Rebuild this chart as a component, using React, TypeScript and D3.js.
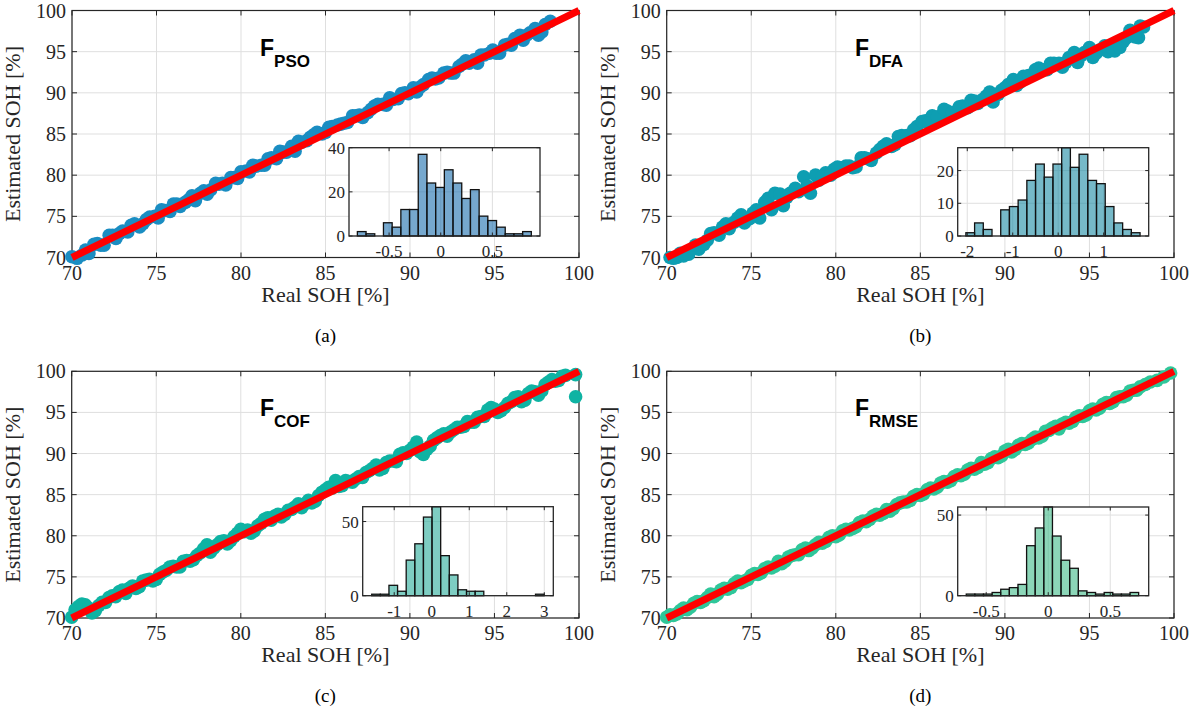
import React from 'react'
import * as d3 from 'd3'

// scatter data: real SOH vs estimated SOH (two interleaved sets per panel)
const realA = [70.0, 70.6, 71.0, 71.5, 71.9, 72.4, 72.8, 73.3, 73.7, 74.2, 74.6, 75.1, 75.5, 76.0, 76.4, 76.9, 77.3, 77.8, 78.2, 78.7, 79.1, 79.6, 80.0, 80.5, 80.9, 81.4, 81.8, 82.3, 82.7, 83.2, 83.6, 84.1, 84.5, 85.0, 85.4, 85.9, 86.3, 86.8, 87.2, 87.7, 88.1, 88.6, 89.0, 89.5, 89.9, 90.4, 90.8, 91.3, 91.7, 92.2, 92.6, 93.1, 93.5, 94.0, 94.4, 94.9, 95.3, 95.8, 96.2, 96.7, 97.1, 97.6, 98.0, 98.3]
const estA = [70.1, 70.3, 70.5, 71.7, 71.5, 72.7, 72.9, 73.1, 74.1, 74.1, 74.9, 74.8, 75.7, 76.5, 76.2, 77.0, 76.9, 78.1, 78.2, 78.9, 78.8, 79.7, 80.4, 80.4, 81.1, 81.2, 82.1, 82.9, 82.8, 82.9, 84.0, 84.6, 85.2, 85.2, 85.9, 86.2, 86.4, 87.2, 87.0, 88.0, 88.6, 88.5, 89.2, 89.9, 89.9, 90.1, 91.0, 91.8, 91.8, 92.5, 92.4, 93.5, 93.6, 93.6, 94.6, 95.2, 94.8, 95.9, 96.6, 96.4, 97.3, 97.0, 98.3, 98.7]
const realA2 = [70.3, 70.8, 71.3, 71.7, 72.2, 72.6, 73.0, 73.5, 74.0, 74.4, 74.9, 75.3, 75.8, 76.2, 76.7, 77.1, 77.6, 78.0, 78.5, 78.9, 79.4, 79.8, 80.3, 80.7, 81.2, 81.6, 82.1, 82.5, 83.0, 83.4, 83.9, 84.3, 84.8, 85.2, 85.7, 86.1, 86.6, 87.0, 87.5, 87.9, 88.4, 88.8, 89.3, 89.7, 90.2, 90.6, 91.1, 91.5, 92.0, 92.4, 92.9, 93.3, 93.8, 94.2, 94.7, 95.1, 95.6, 96.0, 96.5, 96.9, 97.4, 97.8]
const estA2 = [69.9, 70.9, 71.6, 71.5, 72.7, 72.3, 73.2, 73.9, 73.7, 74.6, 75.0, 75.8, 75.6, 76.5, 76.7, 77.5, 77.8, 77.7, 79.0, 79.0, 79.7, 79.6, 80.5, 81.2, 81.2, 82.0, 82.0, 82.8, 83.5, 84.1, 84.2, 84.9, 85.0, 85.8, 86.1, 86.3, 87.2, 87.3, 87.6, 88.4, 88.6, 89.4, 89.3, 90.0, 90.6, 90.7, 91.6, 91.7, 92.4, 92.4, 93.2, 93.9, 94.0, 94.6, 94.8, 94.8, 95.8, 95.8, 97.0, 97.0, 97.8, 97.4]

const realB = [70.2, 70.6, 71.0, 71.5, 71.9, 72.4, 72.8, 73.3, 73.7, 74.2, 74.6, 75.1, 75.5, 76.0, 76.4, 76.9, 77.3, 77.8, 78.1, 78.5, 79.0, 79.4, 79.9, 80.3, 80.8, 81.2, 81.7, 82.1, 82.6, 83.0, 83.5, 83.9, 84.4, 84.8, 85.3, 85.7, 86.2, 86.6, 87.1, 87.5, 88.0, 88.4, 88.9, 89.3, 89.8, 90.2, 90.7, 91.1, 91.6, 92.0, 92.5, 92.9, 93.4, 93.8, 94.3, 94.7, 95.2, 95.6, 96.1, 96.5, 97.0, 97.4, 97.9, 98.2]
const estB = [70.0, 70.0, 70.2, 71.0, 71.0, 72.1, 73.0, 73.7, 73.5, 74.8, 74.2, 75.4, 74.8, 77.2, 77.8, 76.3, 77.8, 78.0, 79.8, 77.8, 79.4, 80.3, 80.7, 80.9, 81.1, 81.0, 82.1, 81.8, 83.1, 83.8, 83.7, 84.8, 84.8, 85.9, 86.6, 87.2, 87.1, 87.8, 87.7, 88.4, 89.1, 88.7, 89.6, 88.9, 90.3, 91.0, 90.9, 92.0, 92.2, 93.0, 92.8, 93.6, 93.1, 94.3, 93.7, 94.9, 94.3, 95.2, 95.0, 95.1, 96.2, 97.6, 96.7, 98.0]
const realB2 = [70.4, 70.8, 71.3, 71.7, 72.2, 72.6, 73.1, 73.5, 74.0, 74.4, 74.9, 75.3, 75.8, 76.2, 76.7, 77.1, 77.6, 78.3, 78.8, 79.2, 79.7, 80.1, 80.6, 81.0, 81.5, 81.9, 82.4, 82.8, 83.3, 83.7, 84.2, 84.6, 85.1, 85.5, 86.0, 86.4, 86.9, 87.3, 87.8, 88.2, 88.7, 89.1, 89.6, 90.0, 90.5, 90.9, 91.4, 91.8, 92.3, 92.7, 93.2, 93.6, 94.1, 94.5, 95.0, 95.4, 95.9, 96.3, 96.8, 97.2, 97.7, 98.0]
const estB2 = [69.9, 70.5, 70.4, 71.5, 71.6, 72.9, 72.7, 74.1, 74.3, 75.2, 74.7, 75.8, 76.7, 75.8, 77.7, 77.3, 78.4, 78.7, 80.0, 79.8, 80.0, 81.0, 81.1, 80.9, 82.1, 82.0, 82.7, 83.5, 83.5, 84.7, 84.8, 85.5, 86.5, 86.3, 87.1, 88.0, 87.6, 88.3, 88.2, 89.0, 89.2, 90.1, 89.8, 90.6, 91.6, 91.3, 92.1, 92.8, 92.8, 93.6, 93.6, 93.7, 94.9, 94.5, 95.5, 94.8, 95.7, 95.5, 95.5, 96.7, 96.8, 98.1]

const realC = [70.0, 70.4, 70.8, 71.2, 71.6, 72.0, 72.4, 72.8, 73.2, 73.6, 74.0, 74.4, 74.8, 75.2, 75.6, 76.0, 76.4, 76.8, 77.2, 77.6, 78.0, 78.4, 78.8, 79.2, 79.6, 80.0, 80.4, 80.8, 81.2, 81.6, 82.0, 82.4, 82.8, 83.2, 83.6, 84.0, 84.4, 84.8, 85.2, 85.6, 86.0, 86.4, 86.8, 87.2, 87.6, 88.0, 88.4, 88.8, 89.2, 89.6, 90.0, 90.4, 90.8, 91.2, 91.6, 92.0, 92.4, 92.8, 93.2, 93.6, 94.0, 94.4, 94.8, 95.2, 95.6, 96.0, 96.4, 96.8, 97.2, 97.6, 98.0, 98.4, 98.8, 99.2, 99.8, 99.8]
const estC = [70.1, 71.4, 71.6, 70.6, 71.5, 71.9, 72.7, 73.2, 73.0, 73.9, 73.8, 74.6, 74.5, 75.3, 75.8, 76.3, 76.2, 77.0, 77.1, 77.9, 78.9, 78.5, 79.3, 79.0, 79.9, 80.8, 80.7, 80.6, 81.5, 82.2, 82.4, 82.3, 83.1, 83.5, 83.4, 84.3, 84.2, 85.3, 85.9, 86.7, 86.1, 86.6, 86.9, 87.1, 87.9, 88.6, 88.2, 89.1, 89.0, 90.1, 90.4, 91.4, 89.9, 90.9, 91.9, 92.4, 92.6, 93.2, 93.3, 93.8, 94.4, 94.5, 95.6, 95.0, 95.6, 96.3, 96.9, 96.5, 97.6, 97.1, 98.4, 99.0, 98.9, 99.5, 99.6, 96.9]
const realC2 = [70.2, 70.6, 71.0, 71.4, 71.8, 72.2, 72.6, 73.0, 73.4, 73.8, 74.2, 74.6, 75.0, 75.4, 75.8, 76.2, 76.6, 77.0, 77.4, 77.8, 78.2, 78.6, 79.0, 79.4, 79.8, 80.2, 80.6, 81.0, 81.4, 81.8, 82.2, 82.6, 83.0, 83.4, 83.8, 84.2, 84.6, 85.0, 85.4, 85.8, 86.2, 86.6, 87.0, 87.4, 87.8, 88.2, 88.6, 89.0, 89.4, 89.8, 90.2, 90.6, 91.0, 91.4, 91.8, 92.2, 92.6, 93.0, 93.4, 93.8, 94.2, 94.6, 95.0, 95.4, 95.8, 96.2, 96.6, 97.0, 97.4, 97.8, 98.2, 98.6, 99.0]
const estC2 = [71.0, 71.7, 71.2, 70.9, 71.9, 72.5, 72.6, 73.4, 73.6, 73.6, 74.5, 74.7, 74.7, 75.6, 76.2, 76.2, 76.9, 76.9, 77.6, 78.4, 78.0, 78.9, 79.4, 79.4, 80.3, 80.5, 80.3, 81.2, 82.0, 81.9, 82.6, 82.6, 83.2, 83.9, 83.9, 84.0, 84.9, 85.6, 85.8, 86.0, 86.7, 86.5, 87.2, 87.7, 88.2, 88.0, 88.9, 89.1, 89.9, 90.0, 90.8, 90.2, 90.5, 91.6, 92.2, 92.1, 92.9, 93.2, 93.9, 93.8, 94.5, 95.3, 95.4, 95.2, 96.1, 96.8, 96.3, 97.3, 97.5, 97.6, 98.7, 98.8, 99.4]

const realD = [70.0, 70.4, 70.8, 71.2, 71.6, 72.0, 72.4, 72.8, 73.2, 73.6, 74.0, 74.4, 74.8, 75.2, 75.6, 76.0, 76.4, 76.8, 77.2, 77.6, 78.0, 78.4, 78.8, 79.2, 79.6, 80.0, 80.4, 80.8, 81.2, 81.6, 82.0, 82.4, 82.8, 83.2, 83.6, 84.0, 84.4, 84.8, 85.2, 85.6, 86.0, 86.4, 86.8, 87.2, 87.6, 88.0, 88.4, 88.8, 89.2, 89.6, 90.0, 90.4, 90.8, 91.2, 91.6, 92.0, 92.4, 92.8, 93.2, 93.6, 94.0, 94.4, 94.8, 95.2, 95.6, 96.0, 96.4, 96.8, 97.2, 97.6, 98.0, 98.6, 99.0, 99.8]
const estD = [70.1, 70.3, 70.9, 71.0, 71.8, 71.9, 72.5, 72.6, 73.4, 73.5, 74.2, 74.3, 74.7, 75.4, 75.5, 76.2, 76.3, 76.6, 77.4, 77.7, 78.3, 78.2, 78.9, 79.1, 79.8, 79.9, 80.6, 80.7, 81.1, 81.8, 82.0, 82.6, 82.7, 83.0, 83.8, 84.1, 84.3, 85.0, 85.1, 85.8, 85.9, 86.6, 86.7, 87.4, 87.5, 88.2, 88.3, 88.7, 89.4, 89.5, 90.3, 90.2, 91.0, 91.1, 91.7, 91.9, 92.7, 93.1, 93.0, 93.8, 93.9, 94.6, 94.7, 95.4, 95.5, 96.2, 96.3, 96.9, 97.1, 97.7, 98.1, 98.7, 98.9, 99.8]
const realD2 = [70.2, 70.6, 71.0, 71.4, 71.8, 72.2, 72.6, 73.0, 73.4, 73.8, 74.2, 74.6, 75.0, 75.4, 75.8, 76.2, 76.6, 77.0, 77.4, 77.8, 78.2, 78.6, 79.0, 79.4, 79.8, 80.2, 80.6, 81.0, 81.4, 81.8, 82.2, 82.6, 83.0, 83.4, 83.8, 84.2, 84.6, 85.0, 85.4, 85.8, 86.2, 86.6, 87.0, 87.4, 87.8, 88.2, 88.6, 89.0, 89.4, 89.8, 90.2, 90.6, 91.0, 91.4, 91.8, 92.2, 92.6, 93.0, 93.4, 93.8, 94.2, 94.6, 95.0, 95.4, 95.8, 96.2, 96.6, 97.0, 97.4, 97.8, 98.3, 99.4]
const estD2 = [70.4, 70.5, 71.2, 71.3, 72.0, 72.1, 72.9, 72.9, 73.6, 73.7, 74.5, 74.5, 75.2, 75.3, 76.0, 76.1, 76.9, 76.9, 77.6, 77.7, 78.5, 78.5, 79.2, 79.3, 80.0, 80.1, 80.8, 80.9, 81.6, 81.7, 82.4, 82.5, 83.2, 83.3, 84.0, 84.1, 84.8, 84.9, 85.6, 85.7, 86.4, 86.5, 87.2, 87.3, 88.0, 88.1, 88.9, 88.9, 89.6, 89.7, 90.5, 90.5, 91.2, 91.3, 92.0, 92.1, 92.8, 93.3, 93.6, 93.7, 94.4, 94.5, 95.2, 95.3, 96.0, 96.1, 96.8, 96.9, 97.6, 97.7, 98.4, 99.3]

// error histograms (counts per bin)
const histA = [2, 1, 0, 6, 4, 12, 12, 37, 24, 22, 30, 24, 17, 21, 9, 7, 4, 1, 1, 2]
const histB = [1, 4, 2, 0, 8, 9, 11, 17, 22, 18, 22, 27, 21, 25, 17, 16, 9, 4, 2, 1]
const histC = [1, 1, 7, 3, 24, 35, 53, 60, 27, 14, 4, 3, 3, 0, 0, 0, 0, 0, 0, 1]
const histD = [1, 1, 1, 2, 4, 5, 7, 31, 42, 55, 37, 22, 17, 3, 2, 1, 2, 1, 1, 2]

const mainTicks = [70, 75, 80, 85, 90, 95, 100]

const SERIF = '"Liberation Serif","Times New Roman",serif'
const SANS = '"Liberation Sans",Arial,sans-serif'
const AXIS = '#262626'
const GRID = '#dfdfdf'

const panels = [
  {
    real: [...realA, ...realA2], est: [...estA, ...estA2], hist: histA, sub: 'PSO', letter: '(a)',
    box: [72, 579, 10.5, 257.5], inset: [349, 540, 147.7, 236],
    dot: '#1a8dc2', bar: '#1a6eae',
    binStart: -0.807, binWidth: 0.0842, hx: [-0.888, 0.961], hxTicks: [-0.5, 0, 0.5], hy: [0, 40], hyTicks: [0, 20, 40],
    titleX: 260,
  },
  {
    real: [...realB, ...realB2], est: [...estB, ...estB2], hist: histB, sub: 'DFA', letter: '(b)',
    box: [666.7, 1174, 10.5, 257.5], inset: [957.7, 1148.7, 147.7, 236],
    dot: '#0e9eb2', bar: '#1b8aa3',
    binStart: -2.03, binWidth: 0.1915, hx: [-2.21, 1.99], hxTicks: [-2, -1, 0, 1], hy: [0, 27], hyTicks: [0, 10, 20],
    titleX: 855,
  },
  {
    real: [...realC, ...realC2], est: [...estC, ...estC2], hist: histC, sub: 'COF', letter: '(c)',
    box: [71.7, 579, 371.3, 618], inset: [362.7, 553.3, 506.7, 595.7],
    dot: '#0fb3a3', bar: '#28ac99',
    binStart: -1.6, binWidth: 0.2298, hx: [-1.84, 3.24], hxTicks: [-1, 0, 1, 2, 3], hy: [0, 60], hyTicks: [0, 50],
    titleX: 260,
  },
  {
    real: [...realD, ...realD2], est: [...estD, ...estD2], hist: histD, sub: 'RMSE', letter: '(d)',
    box: [666.7, 1174, 371.3, 618], inset: [957.7, 1148.7, 507, 595.7],
    dot: '#2fc79a', bar: '#3fbb89',
    binStart: -0.661, binWidth: 0.0695, hx: [-0.73, 0.81], hxTicks: [-0.5, 0, 0.5], hy: [0, 55], hyTicks: [0, 50],
    titleX: 855,
  },
]

function fmt(v: number) {
  return v < 0 ? '-' + String(Math.abs(v)) : String(v)
}

function Inset({ p }: { p: any }) {
  const [l, r, t, b] = p.inset
  const x = d3.scaleLinear().domain(p.hx).range([l, r])
  const y = d3.scaleLinear().domain(p.hy).range([b, t])
  return (
    <g>
      <rect x={l} y={t} width={r - l} height={b - t} fill="#fff" />
      {p.hxTicks.map((v: number) => (
        <line key={'gx' + v} x1={x(v)} x2={x(v)} y1={t} y2={b} stroke={GRID} />
      ))}
      {p.hyTicks.map((v: number) => (
        <line key={'gy' + v} x1={l} x2={r} y1={y(v)} y2={y(v)} stroke={GRID} />
      ))}
      {p.hist.map((c: number, i: number) => {
        if (c === 0) return null
        const x0 = x(p.binStart + i * p.binWidth)
        const x1 = x(p.binStart + (i + 1) * p.binWidth)
        return (
          <rect key={i} x={x0} y={y(c)} width={x1 - x0} height={y(0) - y(c)}
            fill={p.bar} fillOpacity={0.6} stroke="#111" strokeWidth={1.3} />
        )
      })}
      <rect x={l} y={t} width={r - l} height={b - t} fill="none" stroke={AXIS} strokeWidth={1.3} />
      {p.hxTicks.map((v: number) => (
        <g key={'tx' + v}>
          <line x1={x(v)} x2={x(v)} y1={b} y2={b - 3.5} stroke={AXIS} />
          <line x1={x(v)} x2={x(v)} y1={t} y2={t + 3.5} stroke={AXIS} />
          <text x={x(v)} y={b + 21} textAnchor="middle" fontFamily={SERIF} fontSize={17} fill={AXIS}>{fmt(v)}</text>
        </g>
      ))}
      {p.hyTicks.map((v: number) => (
        <g key={'ty' + v}>
          <line x1={l} x2={l + 3.5} y1={y(v)} y2={y(v)} stroke={AXIS} />
          <line x1={r} x2={r - 3.5} y1={y(v)} y2={y(v)} stroke={AXIS} />
          <text x={l - 4} y={y(v) + 6} textAnchor="end" fontFamily={SERIF} fontSize={17} fill={AXIS}>{v}</text>
        </g>
      ))}
    </g>
  )
}

function Panel({ p }: { p: any }) {
  const [l, r, t, b] = p.box
  const x = d3.scaleLinear().domain([70, 100]).range([l, r])
  const y = d3.scaleLinear().domain([70, 100]).range([b, t])
  const cx = (l + r) / 2
  return (
    <g>
      {mainTicks.map(v => (
        <g key={'g' + v}>
          <line x1={x(v)} x2={x(v)} y1={t} y2={b} stroke={GRID} />
          <line x1={l} x2={r} y1={y(v)} y2={y(v)} stroke={GRID} />
        </g>
      ))}
      <rect x={l} y={t} width={r - l} height={b - t} fill="none" stroke={AXIS} strokeWidth={1.2} />
      {mainTicks.map(v => (
        <g key={'t' + v}>
          <line x1={x(v)} x2={x(v)} y1={b} y2={b - 5} stroke={AXIS} />
          <line x1={x(v)} x2={x(v)} y1={t} y2={t + 5} stroke={AXIS} />
          <line x1={l} x2={l + 5} y1={y(v)} y2={y(v)} stroke={AXIS} />
          <line x1={r} x2={r - 5} y1={y(v)} y2={y(v)} stroke={AXIS} />
          <text x={x(v)} y={b + 22} textAnchor="middle" fontFamily={SERIF} fontSize={20} fill={AXIS}>{v}</text>
          <text x={l - 6} y={y(v) + 7} textAnchor="end" fontFamily={SERIF} fontSize={20} fill={AXIS}>{v}</text>
        </g>
      ))}
      {p.real.map((v: number, i: number) => (
        <circle key={i} cx={x(v)} cy={y(p.est[i])} r={6.8} fill={p.dot} />
      ))}
      <line x1={x(70)} y1={y(70)} x2={x(100)} y2={y(100)} stroke="#ff0000" strokeWidth={7} />
      <Inset p={p} />
      <text x={p.titleX} y={t + 45} fontFamily={SANS} fontWeight="bold" fontSize={23} fill="#000">
        F<tspan fontSize={17} dy={11}>{p.sub}</tspan>
      </text>
      <text x={cx} y={b + 44} textAnchor="middle" fontFamily={SERIF} fontSize={22} fill={AXIS}>Real SOH [%]</text>
      <text transform={`translate(${l - 52},${(t + b) / 2}) rotate(-90)`} textAnchor="middle"
        fontFamily={SERIF} fontSize={22} fill={AXIS}>Estimated SOH [%]</text>
      <text x={cx} y={b + 84} textAnchor="middle" fontFamily={SERIF} fontSize={19} fill="#000">{p.letter}</text>
    </g>
  )
}

export default function App() {
  return (
    <svg width={1200} height={709} style={{ position: 'absolute', left: 0, top: 0, background: '#fff' }}>
      <rect width={1200} height={709} fill="#fff" />
      {panels.map((p, i) => <Panel key={i} p={p} />)}
    </svg>
  )
}
